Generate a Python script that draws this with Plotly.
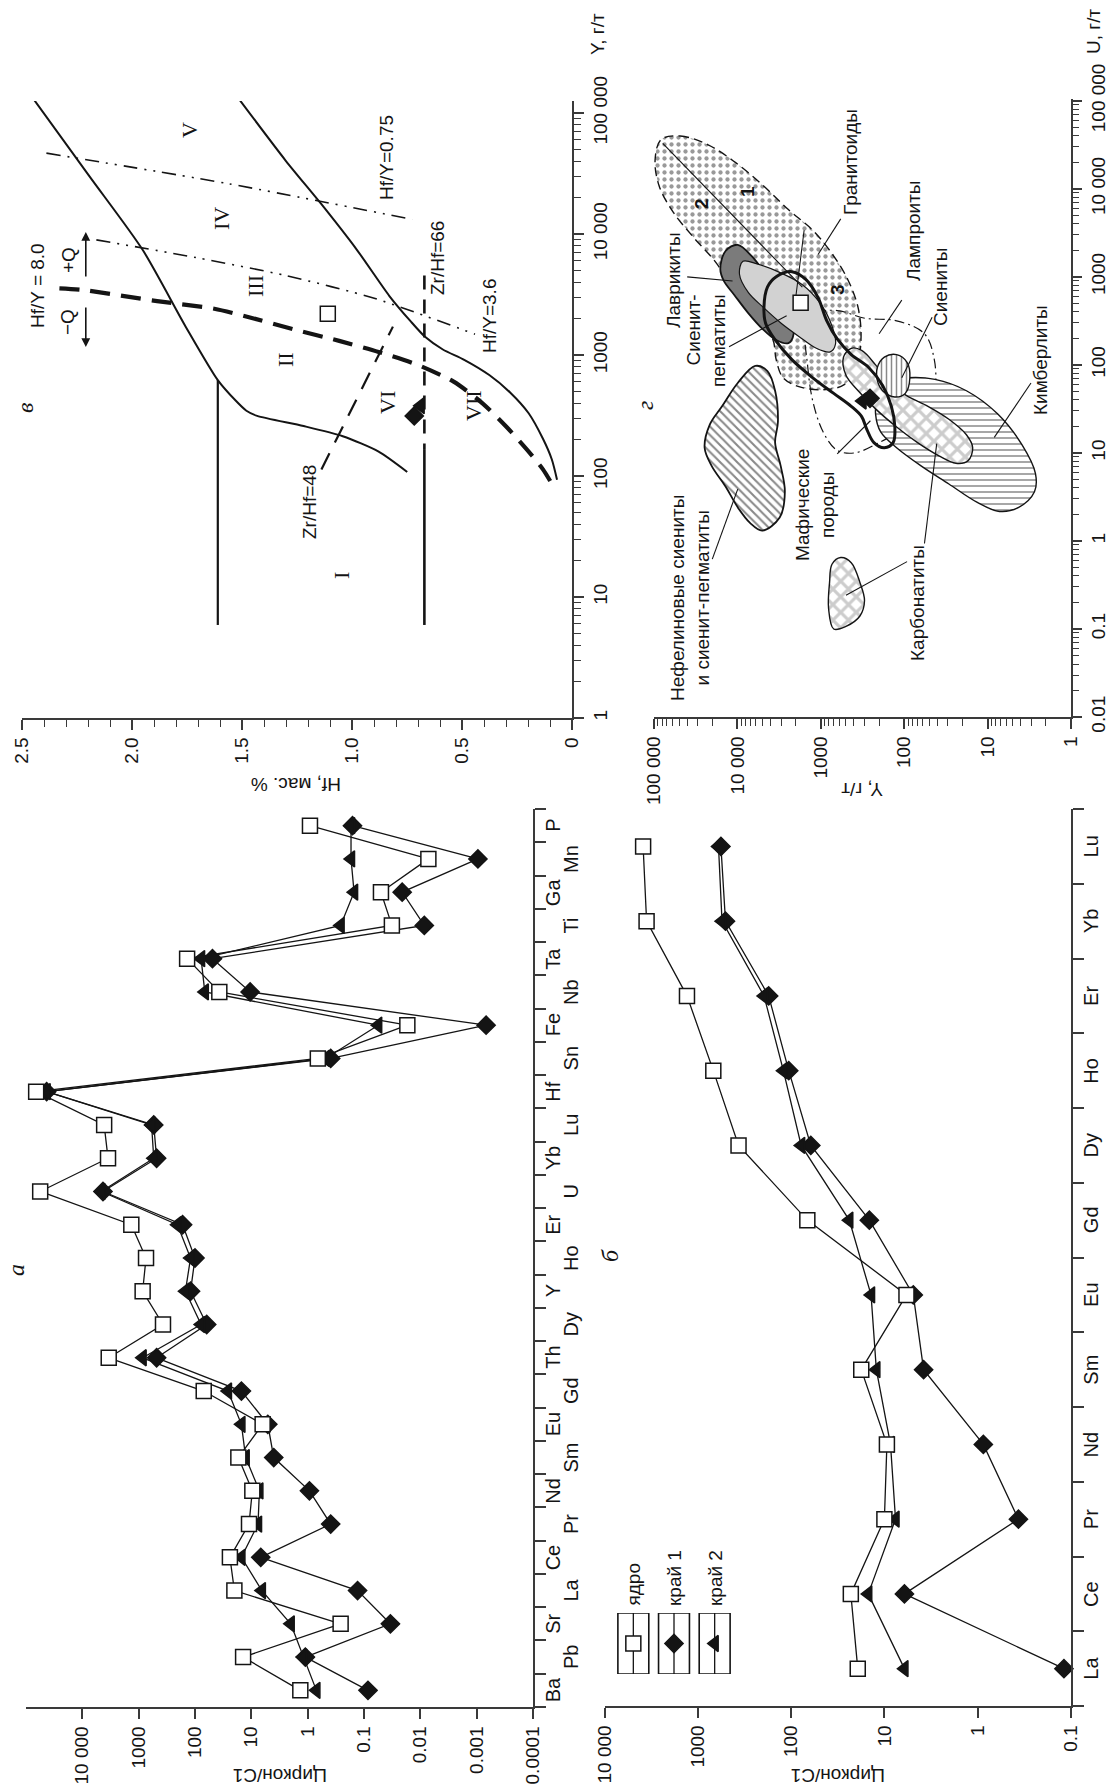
import numpy as np
import plotly.graph_objects as go

W, H = 1109, 1791
SANS = "Liberation Sans, Arial, Helvetica, sans-serif"
SERIF = "Liberation Serif, Times New Roman, serif"
INK = "#141414"
AXC = "#3a3a3a"

# ---------------- panel а: zircon / C1 spider diagram ----------------
spider_elements = ["Ba", "Pb", "Sr", "La", "Ce", "Pr", "Nd", "Sm", "Eu", "Gd", "Th", "Dy", "Y", "Ho",
                   "Er", "U", "Yb", "Lu", "Hf", "Sn", "Fe", "Nb", "Ta", "Ti", "Ga", "Mn", "P"]
spider_core = [1.35, 14, 0.26, 20, 24, 11, 9.6, 17, 6.3, 70, 3400, 370, 850, 740,
               1350, 56000, 3500, 4100, 66000, 0.66, 0.017, 37, 138, 0.032, 0.05, 0.0072, 0.91]
spider_rim1 = [0.085, 1.1, 0.034, 0.13, 6.8, 0.39, 0.93, 4.0, 5.1, 15, 480, 62, 120, 100,
               166, 4300, 480, 540, 43000, 0.39, 0.00068, 10.5, 49, 0.0085, 0.021, 0.00095, 0.16]
spider_rim2 = [0.7, 1.2, 2.0, 6.5, 15, 7.6, 7.2, 12.6, 15, 26, 850, 78, 148, 120,
               205, 4600, 540, 590, 43000, 0.48, 0.056, 67, 78, 0.26, 0.15, 0.17, 0.17]
spider_ticks = [1e4, 1e3, 1e2, 1e1, 1, 0.1, 0.01, 0.001, 0.0001]
spider_ticktext = ["10 000", "1000", "100", "10", "1", "0.1", "0.01", "0.001", "0.0001"]

# ---------------- panel б: REE patterns ----------------
ree = ["La", "Ce", "Pr", "Nd", "Sm", "Eu", "Gd", "Dy", "Ho", "Er", "Yb", "Lu"]
ree_core = [19.3, 22.9, 10, 9.4, 17.7, 5.8, 67, 366, 682, 1306, 3540, 3855]
ree_rim1 = [0.119, 6.1, 0.366, 0.87, 3.8, 4.9, 14.5, 61.5, 106, 174, 505, 565]
ree_rim2 = [6.1, 14.9, 7.6, 8.6, 12.2, 13.9, 23.8, 78, 121, 195, 550, 600]
ree_ticks = [1e4, 1e3, 1e2, 1e1, 1, 0.1]
ree_ticktext = ["10 000", "1000", "100", "10", "1", "0.1"]
legend_names = ["ядро", "край 1", "край 2"]

# ---------------- panel в: Hf (wt.%) vs Y (ppm) ----------------
upper_hf = [2.446, 2.194, 1.951, 1.756, 1.610, 1.529, 1.480, 1.431, 1.220, 1.042, 0.879, 0.749]
upper_logY = [5.112, 4.479, 3.868, 3.235, 2.793, 2.624, 2.540, 2.497, 2.413, 2.329, 2.202, 2.034]
hf16_hf = [1.61, 1.61]
hf16_logY = [2.793, 0.769]
lower_hf = [1.512, 1.301, 1.139, 0.977, 0.830, 0.733, 0.668, 0.587, 0.490, 0.376, 0.279, 0.197, 0.132, 0.092, 0.068]
lower_logY = [5.112, 4.606, 4.247, 3.868, 3.488, 3.278, 3.151, 3.046, 2.961, 2.835, 2.687, 2.519, 2.308, 2.139, 1.970]
hfy8_hf = [2.33, 2.227, 1.886, 1.626, 1.464, 1.269, 1.058, 0.879, 0.701, 0.538, 0.408, 0.295, 0.197, 0.132, 0.092]
hfy8_logY = [3.552, 3.539, 3.446, 3.383, 3.311, 3.214, 3.117, 3.025, 2.919, 2.780, 2.603, 2.401, 2.202, 2.055, 1.937]
hfy36_hf = [2.162, 1.707, 1.301, 0.895, 0.441]
hfy36_logY = [3.952, 3.805, 3.657, 3.467, 3.172]
hfy075_hf = [2.389, 1.561, 0.725]
hfy075_logY = [4.669, 4.416, 4.121]
zrhf48_hf = [1.139, 0.814]
zrhf48_logY = [2.055, 3.235]
zrhf66_hf = [0.671, 0.671]
zrhf66_logY = [3.657, 2.223]
hf067_hf = [0.671, 0.671]
hf067_logY = [2.223, 0.769]
v_core = (1.110, 3.341)
v_rim1 = (0.717, 2.497)
v_rim2 = (0.688, 2.582)
hf_ticks = [2.5, 2.0, 1.5, 1.0, 0.5, 0]
hf_ticktext = ["2.5", "2.0", "1.5", "1.0", "0.5", "0"]

# ---------------- panel г: U vs Y fields (log10 ppm) ----------------
granite_logY = [4.916, 4.686, 4.351, 4.017, 3.682, 3.389, 3.096, 2.866, 2.677, 2.552, 2.518, 2.573, 2.719,
                2.970, 3.263, 3.452, 3.535, 3.577, 3.765, 4.017, 4.268, 4.519, 4.770, 4.937, 4.987]
granite_logU = [4.558, 4.600, 4.500, 4.294, 4.029, 3.764, 3.529, 3.264, 2.970, 2.647, 2.294, 1.970, 1.776,
                1.717, 1.753, 1.853, 2.059, 2.294, 2.529, 2.823, 3.176, 3.441, 3.735, 4.029, 4.323]
lavrikite_logY = [4.205, 4.142, 3.996, 3.828, 3.661, 3.493, 3.368, 3.326, 3.389, 3.535, 3.703, 3.870, 4.037, 4.163]
lavrikite_logU = [3.088, 3.294, 3.364, 3.235, 3.029, 2.794, 2.559, 2.353, 2.247, 2.282, 2.412, 2.588, 2.794, 2.953]
pegmatite_logY = [3.975, 3.933, 3.765, 3.514, 3.221, 3.012, 2.866, 2.824, 2.887, 3.054, 3.263, 3.472, 3.682, 3.870]
pegmatite_logU = [3.029, 3.176, 3.147, 3.059, 2.911, 2.706, 2.441, 2.235, 2.147, 2.188, 2.323, 2.470, 2.647, 2.823]
mafic_logY = [3.682, 3.640, 3.535, 3.347, 3.180, 3.033, 2.928, 2.803, 2.635, 2.426, 2.259, 2.154, 2.112,
              2.133, 2.238, 2.363, 2.447, 2.510, 2.635, 2.845, 3.096, 3.347, 3.556, 3.661]
mafic_logU = [2.647, 2.882, 3.000, 3.059, 2.970, 2.764, 2.500, 2.294, 2.117, 1.970, 1.765, 1.529, 1.294,
              1.117, 1.059, 1.117, 1.265, 1.412, 1.529, 1.676, 1.853, 2.059, 2.294, 2.470]
lamproite_logY = [3.180, 3.054, 2.803, 2.468, 2.091, 1.757, 1.639, 1.631, 1.715, 1.966, 2.301, 2.594, 2.803, 2.970, 3.096, 3.159]
lamproite_logU = [2.411, 2.588, 2.617, 2.529, 2.500, 2.353, 2.059, 1.706, 1.470, 1.294, 1.117, 1.000, 1.029, 1.235, 1.588, 2.000]
syenite_logY = [2.322, 2.238, 2.091, 1.966, 1.932, 1.987, 2.112, 2.259, 2.322]
syenite_logU = [1.970, 2.088, 2.117, 2.029, 1.853, 1.676, 1.635, 1.706, 1.823]
carbonatite_logY = [2.728, 2.635, 2.510, 2.343, 2.175, 1.966, 1.715, 1.464, 1.254, 1.179, 1.233, 1.380, 1.589,
                    1.840, 2.091, 2.343, 2.552, 2.698]
carbonatite_logU = [2.088, 2.188, 2.164, 2.000, 1.794, 1.647, 1.529, 1.382, 1.206, 1.059, 0.912, 0.882, 0.970,
                    1.117, 1.294, 1.500, 1.706, 1.882]
carbonatite2_logY = [2.866, 2.761, 2.635, 2.531, 2.476, 2.531, 2.698, 2.845, 2.907, 2.895]
carbonatite2_logU = [-0.265, -0.188, -0.247, -0.471, -0.677, -0.853, -0.971, -1.000, -0.765, -0.471]
kimberlite_logY = [2.322, 2.217, 1.966, 1.631, 1.254, 0.878, 0.585, 0.426, 0.438, 0.627, 0.857, 1.129, 1.464,
                   1.798, 2.091, 2.280, 2.343]
kimberlite_logU = [1.617, 1.794, 1.853, 1.835, 1.706, 1.441, 1.088, 0.765, 0.559, 0.382, 0.335, 0.441, 0.647,
                   0.853, 1.059, 1.235, 1.441]
nepheline_logY = [3.786, 3.640, 3.548, 3.514, 3.548, 3.481, 3.431, 3.493, 3.703, 3.849, 3.996, 4.142, 4.309,
                  4.393, 4.330, 4.184, 3.996]
nepheline_logU = [1.988, 1.929, 1.706, 1.353, 1.117, 0.853, 0.559, 0.265, 0.118, 0.206, 0.382, 0.618, 0.853,
                  1.059, 1.323, 1.529, 1.794]
divider_logY = [[4.895, 3.221], [3.200, 3.297]]
divider_logU = [[4.517, 2.882], [3.529, 2.794]]
leader_logY = [[2.761, 3.033], [2.029, 2.301], [1.665, 2.029], [0.480, 0.920], [4.602, 4.058],
               [4.100, 3.410], [4.301, 3.996], [2.803, 2.405], [1.966, 2.698], [1.757, 1.610]]
leader_logU = [[3.658, 3.253], [2.735, 2.353], [2.541, 1.853], [1.794, 1.176], [3.000, 2.953],
               [2.206, 2.559], [-0.206, 0.588], [0.988, 1.365], [-0.235, -0.618], [-0.029, 1.106]]
g_core = (3.242, 2.706)
g_rim1 = (2.41, 1.62)
g_rim2 = (2.50, 1.59)


def fx(p):
    return p / W


def fy(p):
    return 1 - p / H


def pw(a):
    return np.power(10.0, np.asarray(a, dtype=float))


def log_minor(lo, hi):
    return [m * 10.0 ** k for k in range(lo, hi) for m in range(2, 10)]


fig = go.Figure()
annotations = []
shapes = []

SYM = {"core": ("square", "white", 15), "rim1": ("diamond", INK, 14), "rim2": ("triangle-left", INK, 14)}


def marker(kind):
    s, c, z = SYM[kind]
    return dict(symbol=s, color=c, size=z, line=dict(color=INK, width=1.5))


def series(x, y, xa, ya, kind):
    fig.add_trace(go.Scatter(x=x, y=y, xaxis=xa, yaxis=ya, mode="lines+markers",
                             line=dict(color=INK, width=1.3), marker=marker(kind),
                             cliponaxis=False, showlegend=False, hoverinfo="skip"))


def curve(x, y, xa, ya, width=1.6, dash="solid", color=INK, smooth=True, **kw):
    line = dict(color=color, width=width, dash=dash)
    if smooth:
        line.update(shape="spline", smoothing=0.7)
    fig.add_trace(go.Scatter(x=x, y=y, xaxis=xa, yaxis=ya, mode="lines", line=line,
                             showlegend=False, hoverinfo="skip", **kw))


def text(t, x, y, angle=-90, size=19, family=SANS, xref="paper", yref="paper",
         xanchor="center", yanchor="middle", **kw):
    annotations.append(dict(text=t, x=x, y=y, xref=xref, yref=yref, showarrow=False,
                            xanchor=xanchor, yanchor=yanchor, textangle=angle,
                            font=dict(family=family, size=size, color=INK), **kw))


# ---- а ----
idx = list(range(len(spider_elements)))
series(spider_rim1, idx, "x", "y", "rim1")
series(spider_rim2, idx, "x", "y", "rim2")
series(spider_core, idx, "x", "y", "core")
for i, el in enumerate(spider_elements):
    text(el, fx(553 if i % 2 == 0 else 571), i, yref="y", size=20)

# ---- б ----
ridx = list(range(len(ree)))
series(ree_rim1, ridx, "x2", "y2", "rim1")
series(ree_rim2, ridx, "x2", "y2", "rim2")
series(ree_core, ridx, "x2", "y2", "core")
for i, el in enumerate(ree):
    text(el, fx(1091), i, yref="y2", size=20)

# legend: three framed keys with a vertical stroke through each symbol
legend_x = [633, 674, 715]
for i, (name, kind) in enumerate(zip(legend_names, ["core", "rim1", "rim2"])):
    fig.add_trace(go.Scatter(x=[i + 0.5, i + 0.5], y=[0, 1], xaxis="x5", yaxis="y5", mode="lines",
                             line=dict(color=INK, width=1.3), showlegend=False, hoverinfo="skip"))
    fig.add_trace(go.Scatter(x=[i + 0.5], y=[0.5], xaxis="x5", yaxis="y5", mode="markers",
                             marker=marker(kind), showlegend=False, hoverinfo="skip", cliponaxis=False))
    shapes.append(dict(type="rect", xref="x5", yref="y5", x0=i + 0.12, x1=i + 0.88, y0=0, y1=1,
                       line=dict(color=INK, width=1.6)))
    text(name, fx(legend_x[i]), fy(1608), yanchor="bottom", size=19)

# ---- в ----
curve(upper_hf, pw(upper_logY), "x3", "y3", width=2)
curve(hf16_hf, pw(hf16_logY), "x3", "y3", width=2.2, smooth=False)
curve(lower_hf, pw(lower_logY), "x3", "y3", width=2)
curve(hfy8_hf, pw(hfy8_logY), "x3", "y3", width=4.2, dash="20px,11px")
curve(hfy36_hf, pw(hfy36_logY), "x3", "y3", width=1.6, dash="14px,7px,2px,7px,2px,7px")
curve(hfy075_hf, pw(hfy075_logY), "x3", "y3", width=1.6, dash="14px,7px,2px,7px,2px,7px")
curve(zrhf48_hf, pw(zrhf48_logY), "x3", "y3", width=2.2, dash="18px,12px", smooth=False)
curve(zrhf66_hf, pw(zrhf66_logY), "x3", "y3", width=2.6, dash="14px,10px", smooth=False)
curve(hf067_hf, pw(hf067_logY), "x3", "y3", width=2.6, smooth=False)
for kind, (h, ly) in [("rim1", v_rim1), ("rim2", v_rim2), ("core", v_core)]:
    fig.add_trace(go.Scatter(x=[h], y=[10 ** ly], xaxis="x3", yaxis="y3", mode="markers",
                             marker=marker(kind), showlegend=False, hoverinfo="skip"))

# ±Q arrows
for tail, head in [((2.21, 3.405), (2.21, 3.066)), ((2.21, 3.636), (2.21, 4.017))]:
    annotations.append(dict(x=head[0], y=head[1], ax=tail[0], ay=tail[1], xref="x3", yref="y3",
                            axref="x3", ayref="y3", showarrow=True, arrowhead=2, arrowsize=1.1,
                            arrowwidth=1.6, arrowcolor=INK, text=""))
text("−Q", fx(68), fy(322))
text("+Q", fx(68), fy(260))
text("Hf/Y = 8.0", fx(37), fy(286))
text("Hf/Y=0.75", fx(386), fy(158))
text("Zr/Hf=66", fx(437), fy(258))
text("Hf/Y=3.6", fx(489), fy(316))
text("Zr/Hf=48", fx(309), fy(502))
for numeral, (px, py) in {"I": (341, 576), "II": (286, 360), "III": (255, 286), "IV": (221, 219),
                          "V": (189, 130), "VI": (388, 403), "VII": (473, 406)}.items():
    text(numeral, fx(px), fy(py), size=22, family=SERIF)


# ---- г ----
def field(ly, lu, width=1.3, dash="solid", fillcolor=None, pattern=None, smooth=1.0):
    ly = list(ly) + [ly[0]]
    lu = list(lu) + [lu[0]]
    kw = dict(fill="toself")
    if pattern is not None:
        kw["fillpattern"] = pattern
        kw["fillcolor"] = "white"
    elif fillcolor is not None:
        kw["fillcolor"] = fillcolor
    else:
        kw = {}
    fig.add_trace(go.Scatter(x=pw(ly), y=pw(lu), xaxis="x4", yaxis="y4", mode="lines",
                             line=dict(color=INK, width=width, dash=dash, shape="spline", smoothing=smooth),
                             showlegend=False, hoverinfo="skip", **kw))


field(granite_logY, granite_logU, width=1.4, dash="9px,5px",
      pattern=dict(shape=".", fgcolor="#333", bgcolor="white", size=7, solidity=0.3))
field(lamproite_logY, lamproite_logU, width=1.2, dash="10px,4px,2px,4px")
field(nepheline_logY, nepheline_logU, width=1.8,
      pattern=dict(shape="\\", fgcolor=INK, bgcolor="white", size=6, solidity=0.35))
field(kimberlite_logY, kimberlite_logU, width=1.4,
      pattern=dict(shape="-", fgcolor=INK, bgcolor="white", size=6, solidity=0.25))
field(carbonatite_logY, carbonatite_logU, width=1.4,
      pattern=dict(shape="x", fgcolor="#9a9a9a", bgcolor="white", size=11, solidity=0.5))
field(carbonatite2_logY, carbonatite2_logU, width=1.4,
      pattern=dict(shape="x", fgcolor="#9a9a9a", bgcolor="white", size=11, solidity=0.5))
field(syenite_logY, syenite_logU, width=1.4,
      pattern=dict(shape="|", fgcolor=INK, bgcolor="white", size=5, solidity=0.3))
field(lavrikite_logY, lavrikite_logU, width=1.8, fillcolor="#7b7b7b")
field(pegmatite_logY, pegmatite_logU, width=1.2, fillcolor="#d2d2d2")
field(mafic_logY, mafic_logU, width=3.0)
for ly, lu in zip(divider_logY, divider_logU):
    curve(pw(ly), pw(lu), "x4", "y4", width=1.1, smooth=False)
for ly, lu in zip(leader_logY, leader_logU):
    curve(pw(ly), pw(lu), "x4", "y4", width=1.1, smooth=False)
for kind, (ly, lu) in [("rim1", g_rim1), ("rim2", g_rim2), ("core", g_core)]:
    fig.add_trace(go.Scatter(x=[10 ** ly], y=[10 ** lu], xaxis="x4", yaxis="y4", mode="markers",
                             marker=marker(kind), showlegend=False, hoverinfo="skip"))

text("Гранитоиды", fx(851), fy(162))
text("Лампроиты", fx(914), fy(231))
text("Сиениты", fx(940), fy(287))
text("Кимберлиты", fx(1041), fy(360))
text("Лаврикиты", fx(673), fy(280))
text("Сиенит-<br>пегматиты", fx(706), fy(340), align="right")
text("Нефелиновые сиениты<br>и сиенит-пегматиты", fx(690), fy(598))
text("Мафические<br>породы", fx(815), fy(505))
text("Карбонатиты", fx(917), fy(603))
text("<b>1</b>", fx(748), fy(192))
text("<b>2</b>", fx(701), fy(204))
text("<b>3</b>", fx(837), fy(290))

# panel letters and axis titles
for letter, (px, py) in {"а": (16, 1270), "б": (610, 1256), "в": (25, 408), "г": (645, 406)}.items():
    text("<i>%s</i>" % letter, fx(px), fy(py), size=24, family=SERIF)
text("Циркон/C1", fx(280), fy(1776), angle=180)
text("Циркон/C1", fx(838), fy(1776), angle=180)
text("Hf, мас. %", fx(296), fy(785), angle=180)
text("Y, г/т", fx(862), fy(790), angle=180)
text("Y, г/т", fx(598), fy(34))
text("U, г/т", fx(1093), fy(32))

# ---------------- axes ----------------
base = dict(showgrid=False, zeroline=False, showline=True, linecolor=AXC, linewidth=1.5,
            ticks="outside", tickcolor=AXC, tickwidth=1.5, fixedrange=True, automargin=False,
            tickfont=dict(family=SANS, size=19, color=INK))

layout_axes = dict(
    xaxis=dict(base, domain=[fx(26), fx(533)], type="log", range=[5, -4], anchor="y",
               tickmode="array", tickvals=spider_ticks, ticktext=spider_ticktext, tickangle=-90, ticklen=10),
    yaxis=dict(base, domain=[fy(1707), fy(809)], range=[-0.5, 26.5], anchor="x", side="right",
               tickmode="array", tickvals=[i - 0.5 for i in range(28)], showticklabels=False, ticklen=11),
    xaxis2=dict(base, domain=[fx(604.5), fx(1071)], type="log", range=[4, -1], anchor="y2",
                tickmode="array", tickvals=ree_ticks, ticktext=ree_ticktext, tickangle=-90, ticklen=10),
    yaxis2=dict(base, domain=[fy(1706), fy(809)], range=[-0.5, 11.5], anchor="x2", side="right",
                tickmode="array", tickvals=[i - 0.5 for i in range(13)], showticklabels=False, ticklen=11),
    xaxis3=dict(base, domain=[fx(22), fx(572)], range=[2.5, 0], anchor="y3",
                tickmode="array", tickvals=hf_ticks, ticktext=hf_ticktext, tickangle=-90, ticklen=10,
                minor=dict(tickmode="linear", tick0=0, dtick=0.1, ticks="outside", ticklen=7,
                           tickcolor=AXC, tickwidth=1.2)),
    yaxis3=dict(base, domain=[fy(718), fy(101)], type="log", range=[0, 5.1], anchor="x3", side="right",
                tickmode="array", tickvals=[1, 10, 100, 1000, 1e4, 1e5],
                ticktext=["1", "10", "100", "1000", "10 000", "100 000"], tickangle=-90, ticklen=10,
                minor=dict(tickmode="array", tickvals=log_minor(0, 5), ticks="outside", ticklen=7,
                           tickcolor=AXC, tickwidth=1.2)),
    xaxis4=dict(base, domain=[fx(654), fx(1071)], type="log", range=[5, 0], anchor="y4",
                tickmode="array", tickvals=[1e5, 1e4, 1e3, 100, 10, 1],
                ticktext=["100 000", "10 000", "1000", "100", "10", "1"], tickangle=-90, ticklen=10,
                minor=dict(tickmode="array", tickvals=log_minor(0, 5), ticks="outside", ticklen=7,
                           tickcolor=AXC, tickwidth=1.2)),
    yaxis4=dict(base, domain=[fy(717), fy(99)], type="log", range=[-2, 5.02], anchor="x4", side="right",
                tickmode="array", tickvals=[0.01, 0.1, 1, 10, 100, 1000, 1e4, 1e5],
                ticktext=["0.01", "0.1", "1", "10", "100", "1000", "10 000", "100 000"],
                tickangle=-90, ticklen=9,
                minor=dict(tickmode="array", tickvals=log_minor(-2, 5), ticks="outside", ticklen=6,
                           tickcolor=AXC, tickwidth=1.2)),
    xaxis5=dict(domain=[fx(613), fx(735)], range=[0, 3], anchor="y5", visible=False,
                fixedrange=True, automargin=False),
    yaxis5=dict(domain=[fy(1674), fy(1613)], range=[0, 1], anchor="x5", visible=False,
                fixedrange=True, automargin=False),
)

fig.update_layout(
    width=W, height=H, autosize=False,
    margin=dict(l=0, r=0, t=0, b=0, pad=0, autoexpand=False),
    paper_bgcolor="white", plot_bgcolor="white",
    showlegend=False,
    font=dict(family=SANS, size=19, color=INK),
    annotations=annotations, shapes=shapes,
    **layout_axes,
)

fig.write_html("out.html")
